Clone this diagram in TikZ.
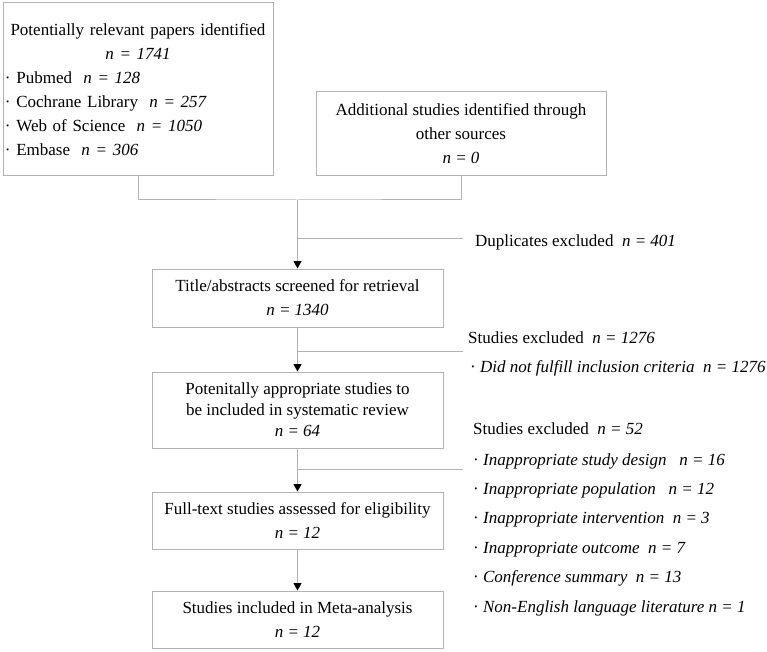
\documentclass[tikz,border=0pt]{standalone}
\usepackage{fontspec}
\setmainfont{Liberation Serif}
\usetikzlibrary{arrows.meta,positioning}
\definecolor{linegray}{RGB}{178,178,178}
\setlength{\parindent}{0pt}

\begin{document}
\begin{tikzpicture}[x=1pt,y=-1pt,
    box/.style={draw=linegray,line width=1pt,align=center,inner sep=2pt,
        minimum width=291pt,minimum height=57pt,font=\fontsize{17}{24}\selectfont},
    note/.style={anchor=west,inner sep=0pt,align=left,font=\fontsize{17}{24}\selectfont},
    line/.style={draw=linegray,line width=1pt},
    flow/.style={line,-{Triangle[length=7.5pt,width=8pt,color=black]}}]
    \useasboundingbox (0,0) rectangle (767,652);

    \node[box,align=left,text width=266pt,minimum width=270pt,minimum height=173pt] (papers) at (138,89.5)
        {\makebox[266pt]{Potentially relevant papers identified}\\
         \makebox[266pt]{\textit{n = 1741}}\\
         · Pubmed\ \ \textit{n = 128}\\
         · Cochrane Library\ \ \textit{n = 257}\\
         · Web of Science\ \ \textit{n = 1050}\\
         · Embase\ \ \textit{n = 306}};
    \node[box,minimum width=290pt,minimum height=84pt] (other) at (461,134)
        {Additional studies identified through\\ other sources\\ \textit{n = 0}};

    \node[box,minimum height=58pt] (title) at (297.5,298) {Title/abstracts screened for retrieval\\ \textit{n = 1340}};
    \node[box,minimum height=76pt,font=\fontsize{17}{21}\selectfont] (appropriate) at (297.5,410)
        {Potenitally appropriate studies to\\ be included in systematic review\\ \textit{n = 64}};
    \node[box] (fulltext) at (297.5,520.5) {Full-text studies assessed for eligibility\\ \textit{n = 12}};
    \node[box] (included) at (297.5,619.5) {Studies included in Meta-analysis\\ \textit{n = 12}};

    \coordinate (merge) at (297.5,200);
    \coordinate (dup) at (463,238);
    \coordinate (excl1) at (463,351);
    \coordinate (excl2) at (463,469);

    \draw[line] (papers.south) |- (merge) -| (other.south);
    \draw[flow] (merge) -- (title.north);
    \draw[flow] (title.south) -- (appropriate.north);
    \draw[flow] (appropriate.south) -- (fulltext.north);
    \draw[flow] (fulltext.south) -- (included.north);
    \draw[line] (dup -| merge) -- (dup);
    \draw[line] (excl1 -| merge) -- (excl1);
    \draw[line] (excl2 -| merge) -- (excl2);

    \node[note] (dupnote) at (475,242) {Duplicates excluded\ \ \textit{n = 401}};
    \node[note] (excl1head) at (468,338) {Studies excluded\ \ \textit{n = 1276}};
    \node[note] (excl1list) at (470,368) {· \textit{Did not fulfill inclusion criteria\ \ n = 1276}};
    \node[note] (excl2head) at (473,429) {Studies excluded\ \ \textit{n = 52}};
    \node[note,font=\fontsize{17}{29.4}\selectfont] (excl2list) at (473,534.5)
        {· \textit{Inappropriate study design\ \ \ n = 16}\\
         · \textit{Inappropriate population\ \ \ n = 12}\\
         · \textit{Inappropriate intervention\ \ n = 3}\\
         · \textit{Inappropriate outcome\ \ n = 7}\\
         · \textit{Conference summary\ \ n = 13}\\
         · \textit{Non-English language literature n = 1}};
\end{tikzpicture}
\end{document}
